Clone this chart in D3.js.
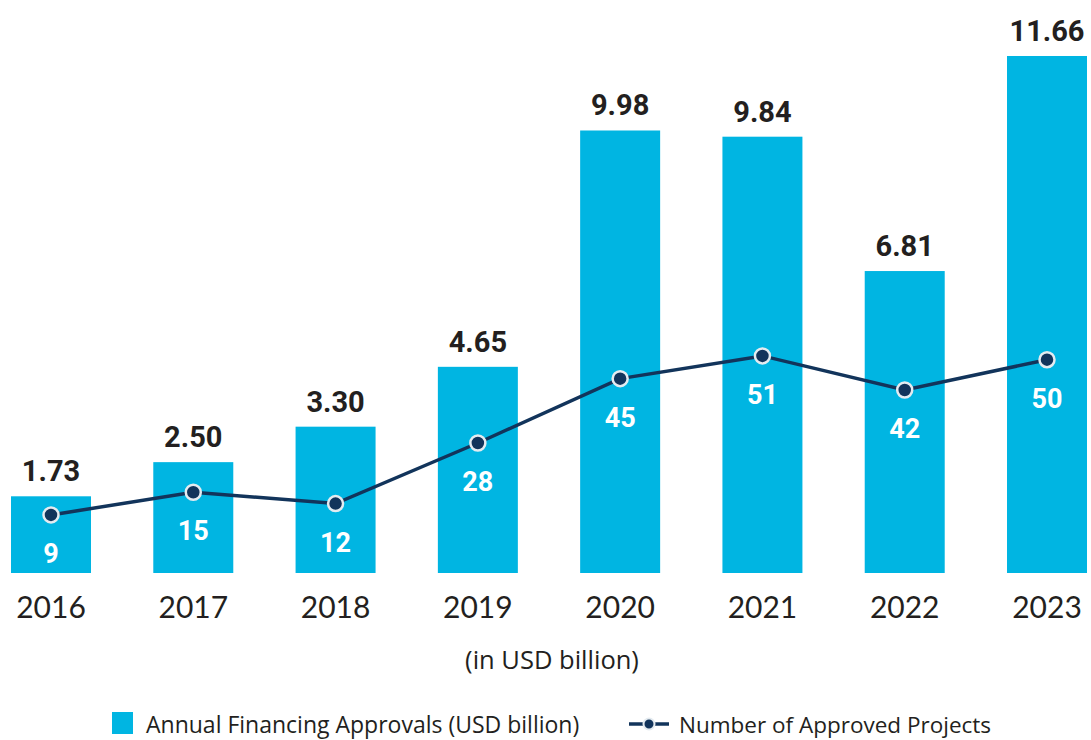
<!DOCTYPE html>
<html><head><meta charset="utf-8">
<script src="https://cdn.jsdelivr.net/npm/d3@7"></script>
<style>body{margin:0;background:#fff}</style>
</head><body>
<svg id="c" width="1091" height="740"></svg>
<script>
const years = ["2016","2017","2018","2019","2020","2021","2022","2023"];
const financing = [1.73, 2.50, 3.30, 4.65, 9.98, 9.84, 6.81, 11.66];
const projects = [9, 15, 12, 28, 45, 51, 42, 50];
const financingLabels = ["1.73","2.50","3.30","4.65","9.98","9.84","6.81","11.66"];
const axisNote = "(in USD billion)";
const legendLabels = ["Annual Financing Approvals (USD billion)", "Number of Approved Projects"];

const BAR = "#00B5E2", NAVY = "#12345B", TXT = "#231F20";
const svg = d3.select("#c");
const x = d3.scaleBand().domain(years).range([11, 1087]).paddingInner(0.4378).paddingOuter(0);
const yBar = d3.scaleLinear().domain([0, 12]).range([573, 573 - 12*44.34]);
const yLine = d3.scaleLinear().domain([0, 60]).range([549, 549 - 60*3.786]);
const cx = d => x(d) + x.bandwidth()/2;

svg.selectAll("rect.bar").data(years).join("rect").attr("class","bar")
  .attr("x", d => x(d)).attr("width", x.bandwidth())
  .attr("y", (d,i) => yBar(financing[i])).attr("height", (d,i) => yBar(0) - yBar(financing[i]))
  .attr("fill", BAR);

svg.selectAll("text.val").data(years).join("text").attr("class","val")
  .attr("x", cx).attr("y", (d,i) => yBar(financing[i]) - 15)
  .attr("text-anchor","middle").attr("font-family","Roboto, 'Liberation Sans', sans-serif")
  .attr("font-weight","bold").attr("font-size", 29).attr("fill", TXT)
  .text((d,i) => financingLabels[i]);

const line = d3.line().x((d,i) => cx(years[i])).y(d => yLine(d));
svg.append("path").datum(projects).attr("d", line).attr("fill","none")
  .attr("stroke", NAVY).attr("stroke-width", 3.5);
svg.selectAll("circle.pt").data(projects).join("circle").attr("class","pt")
  .attr("cx", (d,i) => cx(years[i])).attr("cy", d => yLine(d)).attr("r", 7.5)
  .attr("fill", NAVY).attr("stroke", "#E4EBF0").attr("stroke-width", 2.5);

svg.selectAll("text.cnt").data(projects).join("text").attr("class","cnt")
  .attr("x", (d,i) => cx(years[i])).attr("y", d => yLine(d) + 48)
  .attr("text-anchor","middle").attr("font-family","Roboto, 'Liberation Sans', sans-serif")
  .attr("font-weight","bold").attr("font-size", 27).attr("fill", "#fff")
  .text(d => d);

const xAxis = svg.append("g").attr("transform","translate(0,573)")
  .call(d3.axisBottom(x).tickSize(0).tickPadding(45));
xAxis.select(".domain").remove();
xAxis.selectAll("text").attr("font-family","Lato, sans-serif").attr("font-size", 30)
  .attr("fill", TXT).attr("dy", 0).attr("y", 45);

svg.append("text").attr("x", 552).attr("y", 669).attr("text-anchor","middle")
  .attr("font-family","'Open Sans', sans-serif").attr("font-size", 25.5).attr("fill", TXT).text(axisNote);

const lg = svg.append("g");
lg.append("rect").attr("x", 112).attr("y", 712).attr("width", 21).attr("height", 22).attr("fill", BAR);
lg.append("text").attr("x", 146).attr("y", 733).attr("font-family","'Open Sans', sans-serif")
  .attr("font-size", 23).attr("fill", TXT).text(legendLabels[0]);
lg.append("line").attr("x1", 629).attr("x2", 669).attr("y1", 724).attr("y2", 724)
  .attr("stroke", NAVY).attr("stroke-width", 3.5);
lg.append("circle").attr("cx", 649).attr("cy", 724).attr("r", 5.5).attr("fill", NAVY)
  .attr("stroke", "#E4EBF0").attr("stroke-width", 2);
lg.append("text").attr("x", 679).attr("y", 733).attr("font-family","'Open Sans', sans-serif")
  .attr("font-size", 22.5).attr("fill", TXT).text(legendLabels[1]);
</script>
</body></html>
